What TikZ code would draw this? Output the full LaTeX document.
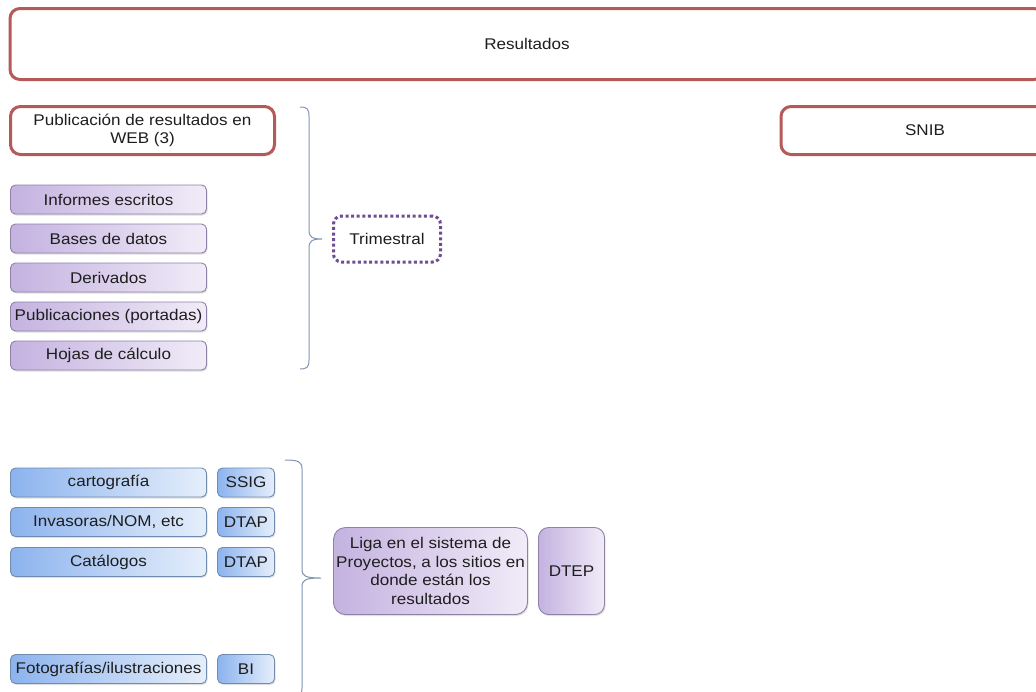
\documentclass[tikz,border=0pt]{standalone}
\usepackage{fontspec}
\setmainfont[FakeStretch=1.1]{Liberation Sans}
\usetikzlibrary{shadows}
\definecolor{redb}{HTML}{B55A58}
\definecolor{purL}{HTML}{C4B2E0}
\definecolor{purR}{HTML}{F1ECF8}
\definecolor{purB}{HTML}{8E82A6}
\definecolor{bluL}{HTML}{8CB3EE}
\definecolor{bluR}{HTML}{E6EFFB}
\definecolor{bluB}{HTML}{6F8CAE}
\definecolor{brc}{HTML}{8096B4}
\definecolor{dotp}{HTML}{6E4D92}
\definecolor{txt}{HTML}{1E1E1E}
\tikzset{
  every node/.style={font=\fontsize{15.5}{18.5}\selectfont, text=txt, align=center, inner sep=0pt},
  redbox/.style={draw=redb, line width=3pt, rounded corners=10pt, fill=white},
  purbox/.style={draw=purB, line width=0.9pt, rounded corners=5pt, left color=purL, right color=purR,
     drop shadow={opacity=0.25, shadow xshift=1pt, shadow yshift=-1.5pt}},
  blubox/.style={draw=bluB, line width=0.9pt, rounded corners=5pt, left color=bluL, right color=bluR,
     drop shadow={opacity=0.25, shadow xshift=1pt, shadow yshift=-1.5pt}},
  bigpur/.style={purbox, rounded corners=12pt},
  dotbox/.style={draw=dotp, line width=3pt, dash pattern=on 3pt off 2.6pt, rounded corners=8pt, fill=white},
  bracel/.style={draw=brc, line width=1pt},
}
\begin{document}
\begin{tikzpicture}[x=1pt,y=-1pt]
\useasboundingbox (0,0) rectangle (1036,691);
\clip (0,0) rectangle (1036,691);
\fill[white] (0,0) rectangle (1036,691);
% top boxes
\node[redbox, minimum width=1034pt, minimum height=71pt] (res) at (527,44) {Resultados};
\node[redbox, minimum width=264pt, minimum height=48pt] (pub) at (142.5,130.5) {Publicación de resultados en\\WEB (3)};
\node[redbox, minimum width=288pt, minimum height=48pt] (snib) at (925,130.5) {SNIB};
% purple list
\node[purbox, minimum width=196pt, minimum height=29pt] (inf) at (108.5,199.5) {Informes escritos};
\node[purbox, minimum width=196pt, minimum height=29pt] (bas) at (108.5,238.5) {Bases de datos};
\node[purbox, minimum width=196pt, minimum height=29pt] (der) at (108.5,277.5) {Derivados};
\node[purbox, minimum width=196pt, minimum height=29pt] (pbl) at (108.5,316.5) {Publicaciones (portadas)};
\node[purbox, minimum width=196pt, minimum height=29pt] (hoj) at (108.5,355.5) {Hojas de cálculo};
% brace 1
\coordinate (b1t) at (300,107);
\coordinate (b1m) at (322,239);
\coordinate (b1b) at (300,369);
\draw[bracel] (b1t) .. controls (307,107) and (309,109) .. (309,116) -- (309,230)
  .. controls (309,237) and (312,239) .. (b1m)
  .. controls (312,239) and (309,241) .. (309,248) -- (309,360)
  .. controls (309,367) and (307,369) .. (b1b);
\node[dotbox, minimum width=107pt, minimum height=46pt] (tri) at (387,239) {Trimestral};
% blue list
\node[blubox, minimum width=196pt, minimum height=29pt] (car) at (108.5,482.5) {cartografía};
\node[blubox, minimum width=57pt, minimum height=29pt] (ssig) at (246,482.5) {SSIG};
\node[blubox, minimum width=196pt, minimum height=29pt] (inv) at (108.5,522) {Invasoras/NOM, etc};
\node[blubox, minimum width=57pt, minimum height=29pt] (dtap1) at (246,522) {DTAP};
\node[blubox, minimum width=196pt, minimum height=29pt] (cat) at (108.5,562) {Catálogos};
\node[blubox, minimum width=57pt, minimum height=29pt] (dtap2) at (246,562) {DTAP};
\node[blubox, minimum width=196pt, minimum height=29pt] (fot) at (108.5,669) {Fotografías/ilustraciones};
\node[blubox, minimum width=57pt, minimum height=29pt] (bi) at (246,669) {BI};
% brace 2
\coordinate (b2t) at (285,460);
\coordinate (b2m) at (321,578);
\coordinate (b2b) at (285,697);
\draw[bracel] (b2t) .. controls (299,460) and (302,462) .. (302,469) -- (302,569)
  .. controls (302,576) and (305,578) .. (b2m)
  .. controls (305,578) and (302,580) .. (302,587) -- (302,688)
  .. controls (302,695) and (299,697) .. (b2b);
% liga
\node[bigpur, minimum width=194pt, minimum height=87pt] (liga) at (430.5,571) {Liga en el sistema de\\Proyectos, a los sitios en\\donde están los\\resultados};
\node[bigpur, rounded corners=10pt, minimum width=66pt, minimum height=87pt] (dtep) at (571.5,571) {DTEP};
\end{tikzpicture}
\end{document}
